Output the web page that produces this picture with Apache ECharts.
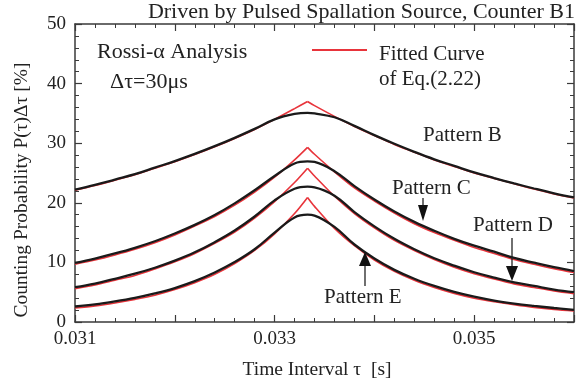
<!DOCTYPE html>
<html>
<head>
<meta charset="utf-8">
<script src="https://cdn.jsdelivr.net/npm/echarts@6/dist/echarts.min.js"></script>
<style>html,body{margin:0;padding:0;background:#fff}#c{width:581px;height:383px}</style>
</head>
<body>
<div id="c"></div>
<script>
// Time interval tau [s]
const tau = [0.0310,0.0312,0.0314,0.0316,0.0318,0.0320,0.0322,0.0324,0.0326,0.0328,0.0330,0.0332,0.03333,0.0334,0.0336,0.0338,0.0340,0.0342,0.0344,0.0346,0.0348,0.0350,0.0352,0.0354,0.0356,0.0358,0.0360];
const peakIndex = 12;
// Fitted curves (Eq. 2.22), red
const fitB = [22.1,22.9,23.8,24.7,25.8,26.9,28.1,29.4,30.8,32.3,34.0,35.8,37.0,36.3,34.5,32.8,31.3,29.8,28.5,27.2,26.1,25.0,24.1,23.2,22.3,21.5,20.8];
const fitC = [9.7,10.4,11.25,12.2,13.3,14.6,16.1,17.7,19.6,21.8,24.3,27.2,29.3,28.15,25.2,22.5,20.3,18.3,16.5,15.0,13.7,12.5,11.5,10.5,9.7,8.95,8.3];
const fitD = [5.6,6.2,7.0,7.8,8.9,10.1,11.5,13.2,15.1,17.45,20.2,23.4,25.8,24.5,21.1,18.2,15.8,13.7,12.0,10.5,9.2,8.1,7.2,6.4,5.8,5.2,4.75];
const fitE = [2.35,2.7,3.2,3.8,4.5,5.45,6.6,8.0,9.8,12.0,14.8,18.2,20.9,19.4,15.7,12.8,10.4,8.5,7.0,5.8,4.8,4.0,3.4,2.9,2.45,2.1,1.85];
// Measured Rossi-alpha data, black
const measB = [22.2,23.0,23.9,24.8,25.9,27.0,28.2,29.5,30.9,32.4,34.0,34.9,35.1,35.0,34.35,32.9,31.35,29.9,28.55,27.3,26.2,25.1,24.15,23.25,22.4,21.6,20.9];
const measC = [9.9,10.65,11.5,12.45,13.55,14.85,16.3,17.95,19.9,22.1,24.5,26.6,26.95,26.85,25.3,22.8,20.55,18.55,16.8,15.3,13.95,12.8,11.8,10.75,9.95,9.2,8.55];
const measD = [5.85,6.45,7.25,8.1,9.1,10.3,11.7,13.4,15.35,17.7,20.4,22.35,22.7,22.6,21.2,18.45,16.05,13.95,12.2,10.7,9.45,8.35,7.45,6.65,6.05,5.45,5.0];
const measE = [2.6,2.95,3.45,4.05,4.8,5.7,6.85,8.3,10.05,12.2,15.0,17.55,18.0,17.85,15.95,13.0,10.65,8.75,7.25,6.05,5.05,4.25,3.6,3.1,2.7,2.35,2.05];

const RED = '#e8343b', BLACK = '#1a1a1a', AX = '#3a3a3a';
const FONT = 'Liberation Serif';
const pairs = arr => tau.map((t,i)=>[t,arr[i]]);

const series = [];
[fitB,fitC,fitD,fitE].forEach(f=>{
  const p = pairs(f);
  series.push({type:'line',data:p.slice(0,peakIndex+1),smooth:0.3,symbol:'none',lineStyle:{color:RED,width:1.6},z:2});
  series.push({type:'line',data:p.slice(peakIndex),smooth:0.3,symbol:'none',lineStyle:{color:RED,width:1.6},z:2});
});
[measB,measC,measD,measE].forEach(m=>{
  series.push({type:'line',data:pairs(m),smooth:0.4,symbol:'none',lineStyle:{color:BLACK,width:2.3},z:3});
});

const xBase = {type:'value',min:0.031,max:0.036,interval:0.001,
  axisLine:{show:true,onZero:false,lineStyle:{color:AX,width:1.5}},
  axisTick:{show:true,inside:true,length:7,lineStyle:{color:AX,width:1.2}},
  minorTick:{show:true,splitNumber:5,length:4,lineStyle:{color:AX,width:1}},
  splitLine:{show:false}};
const yBase = {type:'value',min:0,max:50,interval:10,
  axisLine:{show:true,onZero:false,lineStyle:{color:AX,width:1.5}},
  axisTick:{show:true,inside:true,length:7,lineStyle:{color:AX,width:1.2}},
  minorTick:{show:true,splitNumber:5,length:4,lineStyle:{color:AX,width:1}},
  splitLine:{show:false}};

const txt = (x,y,text,size,extra) => Object.assign({type:'text',x:x,y:y,style:{text:text,fill:'#222',font:size+'px "'+FONT+'"',textAlign:'left',textVerticalAlign:'middle'},z:10},extra||{});
const arrow = (x,y1,y2,hy1,hy2,hw) => ([
  {type:'line',shape:{x1:x,y1:y1,x2:x,y2:y2},style:{stroke:'#222',lineWidth:1.3},z:10},
  {type:'polygon',shape:{points:[[x-hw,hy1],[x+hw,hy1],[x,hy2]]},style:{fill:'#111'},z:10}
]);

const graphic = [
  txt(575,12,'Driven by Pulsed Spallation Source, Counter B1',22,{style:{text:'Driven by Pulsed Spallation Source, Counter B1',fill:'#222',font:'22px "'+FONT+'"',textAlign:'right',textVerticalAlign:'middle'}}),
  txt(97,52,'Rossi-α Analysis',22),
  txt(110,82,'Δτ=30μs',22),
  {type:'line',shape:{x1:312,y1:50,x2:367,y2:50},style:{stroke:RED,lineWidth:2},z:10},
  txt(379,54,'Fitted Curve',21),
  txt(379,79,'of Eq.(2.22)',21),
  txt(423,135,'Pattern B',21),
  txt(392,188,'Pattern C',21),
  txt(473,225,'Pattern D',21),
  txt(324,297,'Pattern E',21),
  ...arrow(423,198,210,205,221,5),
  ...arrow(512,238,268,266,281,6),
  ...arrow(365,286,262,266,252,6),
  {type:'text',x:22,y:190,rotation:Math.PI/2,style:{text:'Counting Probability P(τ)Δτ [%]',fill:'#222',font:'19.5px "'+FONT+'"',textAlign:'center',textVerticalAlign:'middle'},z:10},
  {type:'text',x:317,y:370,style:{text:'Time Interval τ  [s]',fill:'#222',font:'19.5px "'+FONT+'"',textAlign:'center',textVerticalAlign:'middle'},z:10}
];

const chart = echarts.init(document.getElementById('c'),null,{renderer:'canvas'});
chart.setOption({
  animation:false,
  backgroundColor:'#fff',
  grid:{left:75,right:7,top:24,bottom:61},
  xAxis:[
    Object.assign({},xBase,{position:'bottom',
      axisLabel:{color:'#222',fontFamily:FONT,fontSize:19,margin:8,
        formatter:v=>{const k=Math.round(v*1000);return k%2===1?(k/1000).toFixed(3):'';}}}),
    Object.assign({},xBase,{position:'top',axisLabel:{show:false}})
  ],
  yAxis:[
    Object.assign({},yBase,{position:'left',axisLabel:{color:'#222',fontFamily:FONT,fontSize:19,margin:9}}),
    Object.assign({},yBase,{position:'right',axisLabel:{show:false}})
  ],
  series:series,
  graphic:graphic
});
</script>
</body>
</html>
